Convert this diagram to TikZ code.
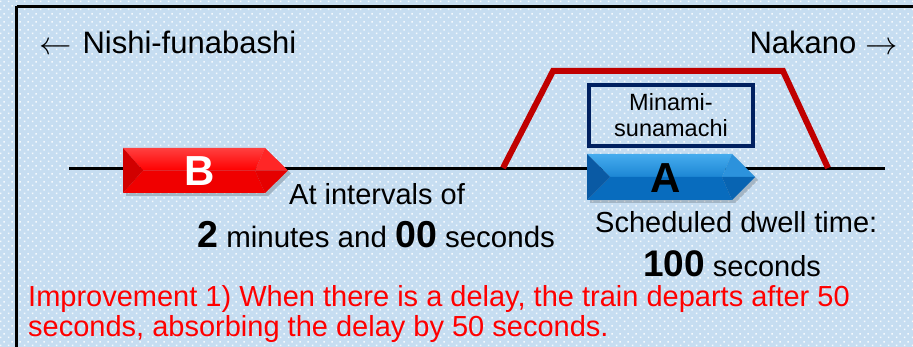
\documentclass[tikz,border=0pt]{standalone}
\usepackage{fontspec}
\setmainfont{Liberation Sans}
\usetikzlibrary{patterns}
\definecolor{bgblue}{HTML}{C6DDF1}
\definecolor{trapred}{HTML}{C00000}
\definecolor{navy}{HTML}{002060}
\definecolor{txtred}{HTML}{FF0000}
\definecolor{bTop1}{RGB}{70,172,238}
\definecolor{bTop2}{RGB}{28,134,212}
\definecolor{bBot}{RGB}{8,108,190}
\definecolor{bLeft}{RGB}{10,90,164}
\definecolor{bRT}{RGB}{44,146,220}
\definecolor{bRB}{RGB}{8,100,178}
\pgfdeclarepatternformonly{bgdots}{\pgfpoint{0pt}{0pt}}{\pgfpoint{8pt}{8pt}}{\pgfpoint{8pt}{8pt}}{%
  \pgfpathrectangle{\pgfpoint{1pt}{1pt}}{\pgfpoint{1.7pt}{1.7pt}}%
  \pgfpathrectangle{\pgfpoint{5pt}{5pt}}{\pgfpoint{1.7pt}{1.7pt}}%
  \pgfusepath{fill}}
\newcommand{\fs}[1]{\fontsize{#1}{#1}\selectfont}
\newcommand{\bigarr}[1]{\raisebox{-1pt}{\scalebox{1.3}{$#1$}}}
\tikzset{
  txt/.style={inner sep=0pt, anchor=base west},
  lab/.style={inner sep=0pt, font=\fs{42}\bfseries},
}
\begin{document}
\begin{tikzpicture}[x=1pt,y=-1pt]
\useasboundingbox (0,0) rectangle (913,347);
\clip (0,0) rectangle (913,347);
\fill[bgblue] (0,0) rectangle (913,347);
\fill[pattern=bgdots, pattern color=white!85!bgblue] (0,0) rectangle (913,347);
\draw[line width=2.5pt] (16.5,6.5) -- (930,6.5);
\draw[line width=2.5pt] (16.5,6.5) -- (16.5,360);

% texts
\node[txt, font=\fs{31}] (nishi) at (39,54) {\bigarr{\leftarrow}\hspace{11pt}Nishi-funabashi};
\node[txt, font=\fs{31}, anchor=base east] (nakano) at (898,54) {Nakano\hspace{9pt}\bigarr{\rightarrow}};

% track
\coordinate (tl) at (69,169);
\coordinate (tr) at (885,169);
\draw[line width=3pt] (tl) -- (tr);

% trapezoid
\coordinate (p1) at (503,168);
\coordinate (p2) at (553,71);
\coordinate (p3) at (783,71);
\coordinate (p4) at (828,168);
\draw[trapred, line width=6pt, line join=miter] (p1) -- (p2) -- (p3) -- (p4);

% station box
\draw[navy, line width=4pt] (589,85) rectangle (753,146);
\node[inner sep=0pt, anchor=base, font=\fs{23.5}] (stn1) at (671,111) {Minami-};
\node[inner sep=0pt, anchor=base, font=\fs{23.5}] (stn2) at (671,137) {sunamachi};

% train B (red)
\fill[black, opacity=0.18] (126,151) -- (268,151) -- (291,173.5) -- (268,196) -- (126,196) -- cycle;
\shade[top color=red!75!white, bottom color=red] (123,148) -- (265,148) -- (255,170.5) -- (143,170.5) -- cycle;
\fill[red!94!black] (123,193) -- (265,193) -- (255,170.5) -- (143,170.5) -- cycle;
\fill[red!82!black] (123,148) -- (143,170.5) -- (123,193) -- cycle;
\fill[red!85!white] (265,148) -- (288,170.5) -- (255,170.5) -- cycle;
\fill[red!90!black] (265,193) -- (288,170.5) -- (255,170.5) -- cycle;
\node[lab, text=white] (B) at (200,171) {B};

% train A (blue)
\fill[black, opacity=0.18] (590,157) -- (735,157) -- (758,180) -- (735,203) -- (590,203) -- cycle;
\shade[top color=bTop1, bottom color=bTop2] (587,154) -- (732,154) -- (722,177) -- (610,177) -- cycle;
\fill[bBot] (587,200) -- (732,200) -- (722,177) -- (610,177) -- cycle;
\fill[bLeft] (587,154) -- (610,177) -- (587,200) -- cycle;
\fill[bRT] (732,154) -- (755,177) -- (722,177) -- cycle;
\fill[bRB] (732,200) -- (755,177) -- (722,177) -- cycle;
\node[lab, text=black] (A) at (666,178) {A};

% annotations
\node[txt, font=\fs{29}] (interval1) at (289,205) {At intervals of};
\node[txt, font=\fs{29.5}] (interval2) at (197,248) {{\fs{37.5}\bfseries 2} minutes and {\fs{37.5}\bfseries 00} seconds};
\node[txt, font=\fs{29}] (dwell1) at (595,233) {Scheduled dwell time:};
\node[txt, font=\fs{29}] (dwell2) at (643,277) {{\fs{37}\bfseries 100} seconds};
\node[txt, font=\fs{29}, text=txtred] (red1) at (28,307) {Improvement 1) When there is a delay, the train departs after 50};
\node[txt, font=\fs{29}, text=txtred] (red2) at (28,337) {seconds, absorbing the delay by 50 seconds.};
\end{tikzpicture}
\end{document}
